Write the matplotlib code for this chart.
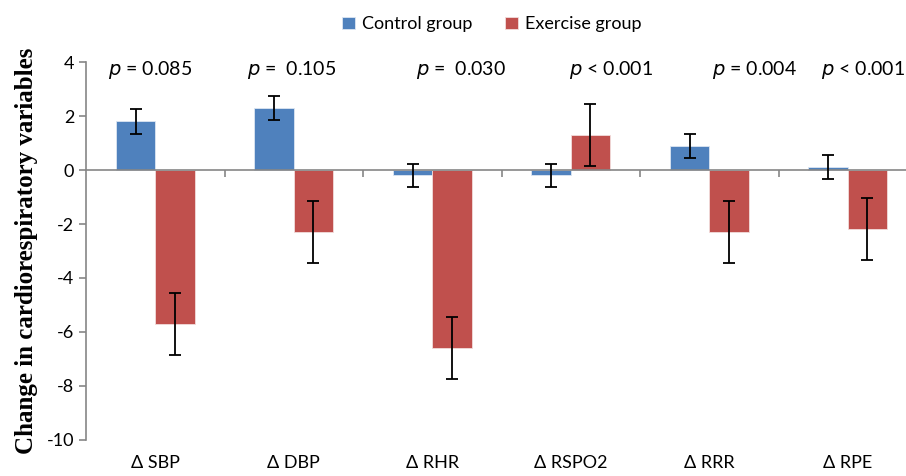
import numpy as np
import matplotlib
matplotlib.use("Agg")
import matplotlib.pyplot as plt
import matplotlib.transforms as mtransforms

plt.rcParams['font.family'] = ['Lato', 'DejaVu Sans']
plt.rcParams['axes.unicode_minus'] = False

#---------------------DATA------------------------
categories = ['Δ SBP', 'Δ DBP', 'Δ RHR', 'Δ RSPO2', 'Δ RRR', 'Δ RPE']
control = [1.8, 2.3, -0.2, -0.2, 0.9, 0.1]
control_err = [0.45, 0.45, 0.43, 0.43, 0.45, 0.45]
exercise = [-5.7, -2.3, -6.6, 1.3, -2.3, -2.2]
exercise_err = [1.15, 1.15, 1.15, 1.16, 1.15, 1.15]
p_signs = ['=', '=', '=', '<', '=', '<']
p_values = ['0.085', ' 0.105', ' 0.030', '0.001', '0.004', '0.001']
p_xpos = [-0.34, 0.66, 1.88, 2.99, 4.02, 4.81]
#-------------------------------------------------

blue = '#4F81BD'
red = '#C0504D'
grey = '#868686'

fig = plt.figure(figsize=(9.06, 4.76), dpi=100)
ax = fig.add_axes([86/906, 36/476, 831/906, 378/476])

x = np.arange(len(categories))
w = 0.285
ax.bar(x - w/2, control, w, color=blue, edgecolor='#dce6f2', linewidth=0.6,
       label='Control group', zorder=2)
ax.bar(x + w/2, exercise, w, color=red, edgecolor='#f2dcdb', linewidth=0.6,
       label='Exercise group', zorder=2)
ax.errorbar(x - w/2, control, yerr=control_err, fmt='none', ecolor='black',
            elinewidth=1.3, capsize=4, capthick=1.3, zorder=3)
ax.errorbar(x + w/2, exercise, yerr=exercise_err, fmt='none', ecolor='black',
            elinewidth=1.3, capsize=4, capthick=1.3, zorder=3)

ax.set_xlim(-0.5, len(categories) - 0.5)
ax.set_ylim(-10, 4)
ax.set_yticks(np.arange(-10, 5, 2))
ax.tick_params(axis='y', labelsize=13, color=grey, length=5, width=1.2)

# zero line with category boundary ticks
ax.spines['bottom'].set_position(('data', 0))
ax.spines['bottom'].set_color(grey)
ax.spines['bottom'].set_linewidth(1.2)
ax.spines['left'].set_color(grey)
ax.spines['left'].set_linewidth(1.2)
ax.spines['top'].set_visible(False)
ax.spines['right'].set_visible(False)
ax.set_xticks(np.arange(0.5, len(categories) - 0.5, 1))
ax.set_xticklabels([])
ax.tick_params(axis='x', color=grey, length=5, width=1.2, direction='out')

trans = mtransforms.blended_transform_factory(ax.transData, ax.transAxes)
for i, c in enumerate(categories):
    ax.text(i, -0.06, c, transform=trans, ha='center', va='center', fontsize=13)

for xp, s, v in zip(p_xpos, p_signs, p_values):
    ax.text(xp, 3.7, '$p$ ' + s + ' ' + v, ha='left', va='center', fontsize=14)

ax.set_ylabel('Change in cardiorespiratory variables', family='Liberation Serif',
              fontweight='bold', fontsize=18, labelpad=6)

fig.legend(loc='upper center', bbox_to_anchor=(0.543, 1.0), ncol=2, frameon=False,
           fontsize=13, handlelength=0.7, handleheight=0.7, columnspacing=1.8,
           handletextpad=0.4)

fig.savefig('out.png', dpi=100)
